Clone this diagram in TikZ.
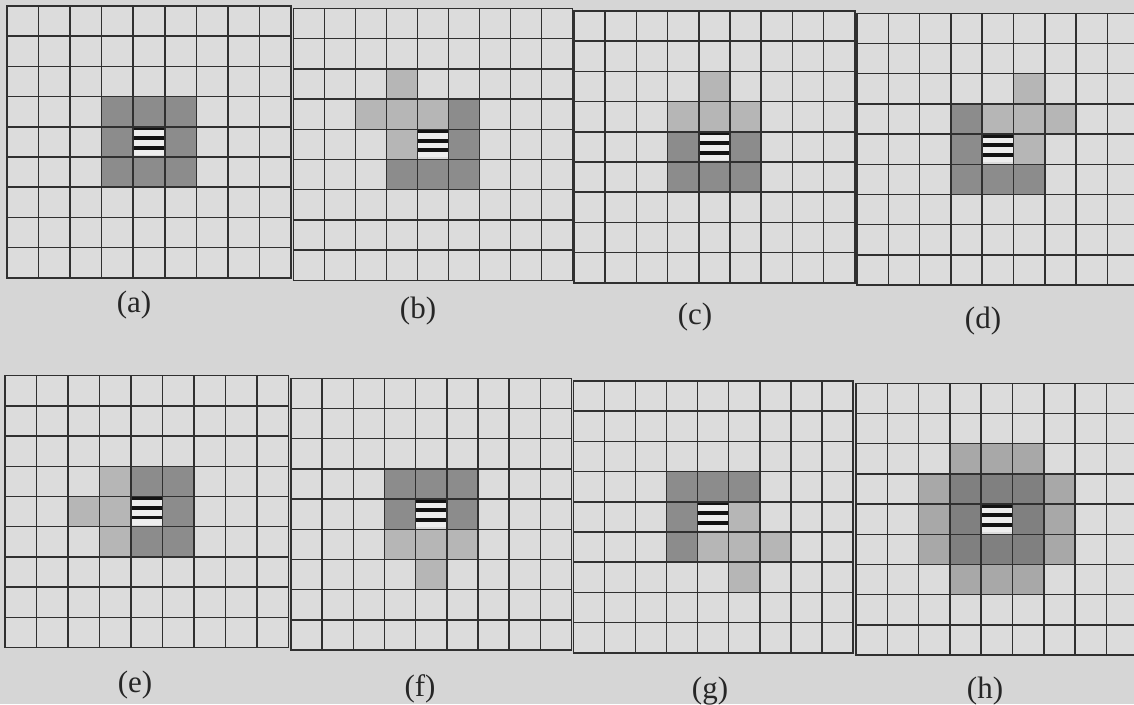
\documentclass[tikz,border=0pt]{standalone}
\usepackage{fontspec}
\setmainfont{Liberation Serif}
\definecolor{paper}{RGB}{214,214,214}
\definecolor{cellc}{RGB}{220,220,220}
\definecolor{darkc}{RGB}{140,140,140}
\definecolor{lightc}{RGB}{182,182,182}
\definecolor{hdark}{RGB}{128,128,128}
\definecolor{hlight}{RGB}{168,168,168}
\definecolor{linec}{RGB}{48,48,48}
\definecolor{barc}{RGB}{20,20,20}
\definecolor{gapc}{RGB}{238,238,238}
\tikzset{
  gl/.style={draw=linec, line width=1.5pt, line cap=rect},
  lbl/.style={font=\fontsize{31}{36}\selectfont, inner sep=0pt, text=black!85},
  panel/.style n args={4}{shift={(#1,#2)}, x=#3, y=-#4},
}
\newcommand\DK[2]{\fill[darkc] (#1,#2) rectangle ++(1,1);}
\newcommand\LT[2]{\fill[lightc] (#1,#2) rectangle ++(1,1);}
\newcommand\HD[2]{\fill[hdark] (#1,#2) rectangle ++(1,1);}
\newcommand\HL[2]{\fill[hlight] (#1,#2) rectangle ++(1,1);}
\newcommand\Bg{\fill[cellc] (0,0) rectangle (9,9);}
\newcommand\Stripes{%
  \fill[gapc] (4,4) rectangle (5,4.93);
  \fill[barc] (4,4) rectangle (5,4.12);
  \fill[barc] (4,4.31) rectangle (5,4.44);
  \fill[barc] (4,4.63) rectangle (5,4.76);}
\newcommand\Grid{\foreach \i in {0,...,9}{\draw[gl] (\i,0) -- (\i,9); \draw[gl] (0,\i) -- (9,\i);}}
\begin{document}
\begin{tikzpicture}[x=1pt,y=-1pt]
\useasboundingbox (0,0) rectangle (1134,704);
\clip (0,0) rectangle (1134,704);
\fill[paper] (0,0) rectangle (1134,704);
% (a)
\begin{scope}[panel={7}{6}{31.55pt}{30.2pt}]
  \Bg
  \DK33 \DK43 \DK53 \DK34 \DK54 \DK35 \DK45 \DK55
  \Stripes \Grid
\end{scope}
% (b)
\begin{scope}[panel={293.3}{8.5}{31.0pt}{30.2pt}]
  \Bg
  \LT32 \LT23 \LT33 \LT43 \LT34
  \DK53 \DK54 \DK35 \DK45 \DK55
  \Stripes \Grid
\end{scope}
% (c)
\begin{scope}[panel={574}{11}{31.2pt}{30.2pt}]
  \Bg
  \LT42 \LT33 \LT43 \LT53
  \DK34 \DK54 \DK35 \DK45 \DK55
  \Stripes \Grid
\end{scope}
% (d)
\begin{scope}[panel={857}{13.3}{31.3pt}{30.2pt}]
  \Bg
  \LT52 \LT43 \LT53 \LT63 \LT54
  \DK33 \DK34 \DK35 \DK45 \DK55
  \Stripes \Grid
\end{scope}
% (e)
\begin{scope}[panel={5}{375.7}{31.5pt}{30.2pt}]
  \Bg
  \LT33 \LT24 \LT34 \LT35
  \DK43 \DK53 \DK54 \DK45 \DK55
  \Stripes \Grid
\end{scope}
% (f)
\begin{scope}[panel={291}{378.3}{31.17pt}{30.2pt}]
  \Bg
  \LT35 \LT45 \LT55 \LT46
  \DK33 \DK43 \DK53 \DK34 \DK54
  \Stripes \Grid
\end{scope}
% (g)
\begin{scope}[panel={573.3}{381}{31.08pt}{30.2pt}]
  \Bg
  \LT54 \LT45 \LT55 \LT65 \LT56
  \DK33 \DK43 \DK53 \DK34 \DK35
  \Stripes \Grid
\end{scope}
% (h)
\begin{scope}[panel={856}{383.3}{31.3pt}{30.2pt}]
  \Bg
  \HL32 \HL42 \HL52 \HL23 \HL63 \HL24 \HL64 \HL25 \HL65 \HL36 \HL46 \HL56
  \HD33 \HD43 \HD53 \HD34 \HD54 \HD35 \HD45 \HD55
  \Stripes \Grid
\end{scope}
% labels
\node[lbl] (la) at (134,305) {(a)};
\node[lbl] (lb) at (418,311) {(b)};
\node[lbl] (lc) at (695,317) {(c)};
\node[lbl] (ld) at (983,321) {(d)};
\node[lbl] (le) at (135,685) {(e)};
\node[lbl] (lf) at (420,689) {(f)};
\node[lbl] (lg) at (710,691) {(g)};
\node[lbl] (lh) at (985,691) {(h)};
\end{tikzpicture}
\end{document}
